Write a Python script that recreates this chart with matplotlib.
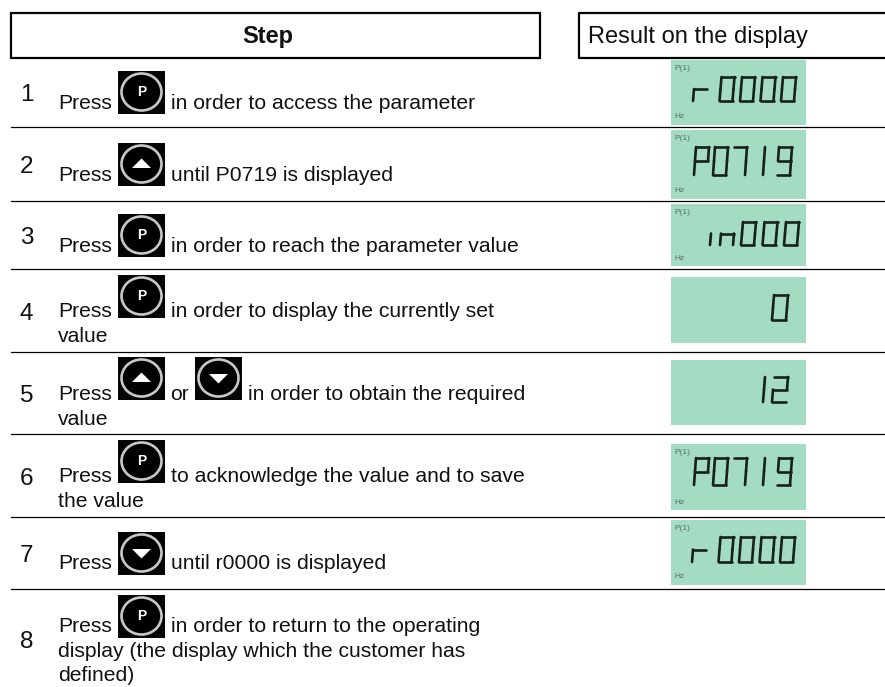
import matplotlib
matplotlib.use('Agg')
import matplotlib.pyplot as plt
from matplotlib.patches import Ellipse, Polygon, Rectangle

plt.rcParams['font.family'] = ['Liberation Sans', 'DejaVu Sans']

header_step = 'Step'
header_result = 'Result on the display'
step_numbers = ['1', '2', '3', '4', '5', '6', '7', '8']
step_lines = [
    ['in order to access the parameter'],
    ['until P0719 is displayed'],
    ['in order to reach the parameter value'],
    ['in order to display the currently set', 'value'],
    ['in order to obtain the required', 'value'],
    ['to acknowledge the value and to save', 'the value'],
    ['until r0000 is displayed'],
    ['in order to return to the operating', 'display (the display which the customer has', 'defined)'],
]
step_keys = ['P', 'up', 'P', 'P', 'up', 'P', 'down', 'P']
display_values = ['r0000', 'P0719', 'in000', '0', '12', 'P0719', 'r0000', '']
display_has_labels = [True, True, True, False, False, True, True, False]

# layout in image pixels
row_lines = [127, 201, 269, 352, 434, 517, 589]
number_base = [101, 173, 244, 320, 402, 485, 562, 648]
text_base = [109, 181, 252, 317, 400, 482, 569, 632]
key_top = [71, 143, 214, 275, 357, 440, 532, 595]
lcd_boxes = [(60, 125), (130, 199), (204, 266), (277, 343), (360, 425), (444, 510), (520, 585)]
# right edge of each glyph, measured back from the last one
offs_r = [0, 20.5, 41, 61.5, 88]
offs_p = [0, 27, 45, 64, 83]
offs_in = [0, 21.5, 43, 64, 74]
# top, height, right edge, digit width, offsets
digit_layout = [
    (77, 24, 796, 13, offs_r), (147, 28, 792, 13, offs_p), (222, 23, 799, 13, offs_in),
    (295, 25, 788, 14, [0]), (377, 25, 788, 14, [0, 23]), (458, 27, 792, 13, offs_p),
    (537, 25, 795, 13, offs_r),
]
LCD_COLOR = '#a3dcc3'
INK = '#111111'
FS = 15.2

SEGMENTS = {
    '0': 'abcdef', '1': 'bc', '2': 'abged', '7': 'abc', '9': 'abcdfg',
    'P': 'abefg', 'r': 'eg', 'n': 'egc', 'i': 'e',
}

fig = plt.figure(figsize=(8.85, 6.87), dpi=100)
ax = fig.add_axes([0, 0, 1, 1])
ax.set_xlim(0, 885)
ax.set_ylim(687, 0)
ax.axis('off')


def draw_key(ax, x, top, kind):
    ax.add_patch(Rectangle((x, top), 47, 43, fc='#050505', ec='none'))
    cx, cy = x + 23.5, top + 21
    ax.add_patch(Ellipse((cx, cy), 40, 37, fc='#000000', ec='#c8c8c8', lw=1.9))
    if kind == 'P':
        ax.text(cx, cy, 'P', color='white', fontsize=10, fontweight='bold', ha='center', va='center')
    elif kind == 'up':
        ax.add_patch(Polygon([(cx - 9.5, cy + 4), (cx + 9.5, cy + 4), (cx, cy - 5.5)], fc='white', ec='none'))
    else:
        ax.add_patch(Polygon([(cx - 9.5, cy - 4), (cx + 9.5, cy - 4), (cx, cy + 5.5)], fc='white', ec='none'))


def draw_digit(ax, ch, left, top, w, h):
    slant = 2.0
    bot = top + h
    mid = top + h * 0.5
    def px(x, y):
        return left + x + slant * (bot - y) / h
    ends = {
        'a': ((0, top), (w, top)), 'b': ((w, top), (w, mid)), 'c': ((w, mid), (w, bot)),
        'd': ((0, bot), (w, bot)), 'e': ((0, mid), (0, bot)), 'f': ((0, top), (0, mid)),
        'g': ((0, mid), (w, mid)),
    }
    for s in SEGMENTS[ch]:
        (x0, y0), (x1, y1) = ends[s]
        ax.plot([px(x0, y0), px(x1, y1)], [y0, y1], color='#16201c', lw=1.9, solid_capstyle='round')


# header boxes
ax.add_patch(Rectangle((11, 13), 529, 45, fc='none', ec='black', lw=1.6))
ax.plot([885, 579, 579, 885], [13, 13, 58, 58], color='black', lw=1.6)
ax.text(268, 43, header_step, fontsize=17, fontweight='bold', ha='center', va='baseline', color=INK)
ax.text(588, 43, header_result, fontsize=17, ha='left', va='baseline', color=INK)

for y in row_lines:
    ax.plot([11, 885], [y, y], color='black', lw=0.9)

for i, num in enumerate(step_numbers):
    ax.text(26.5, number_base[i], num, fontsize=17.5, ha='center', va='baseline', color=INK)
    ax.text(58, text_base[i], 'Press', fontsize=FS, va='baseline', color=INK)
    draw_key(ax, 118, key_top[i], step_keys[i])
    x = 171
    if i == 4:
        # step 5 has a second key
        ax.text(170, text_base[i], 'or', fontsize=FS, va='baseline', color=INK)
        draw_key(ax, 195, key_top[i], 'down')
        x = 248
    ax.text(x, text_base[i], step_lines[i][0], fontsize=FS, va='baseline', color=INK)
    for j, line in enumerate(step_lines[i][1:]):
        ax.text(58, text_base[i] + 24.7 * (j + 1), line, fontsize=FS, va='baseline', color=INK)

for i, val in enumerate(display_values):
    if not val:
        continue
    y0, y1 = lcd_boxes[i]
    ax.add_patch(Rectangle((671, y0), 135, y1 - y0, fc=LCD_COLOR, ec='none'))
    if display_has_labels[i]:
        ax.text(674, y0 + 8, 'P(1)', fontsize=6, color='#5f6f68', va='center')
        ax.text(674, y1 - 8, 'Hz', fontsize=6, color='#5f6f68', va='center')
    top, h, right, w, offs = digit_layout[i]
    for k, ch in enumerate(reversed(val)):
        draw_digit(ax, ch, right - w - 2 - offs[k], top, w, h)

fig.savefig('out.png', dpi=100)
